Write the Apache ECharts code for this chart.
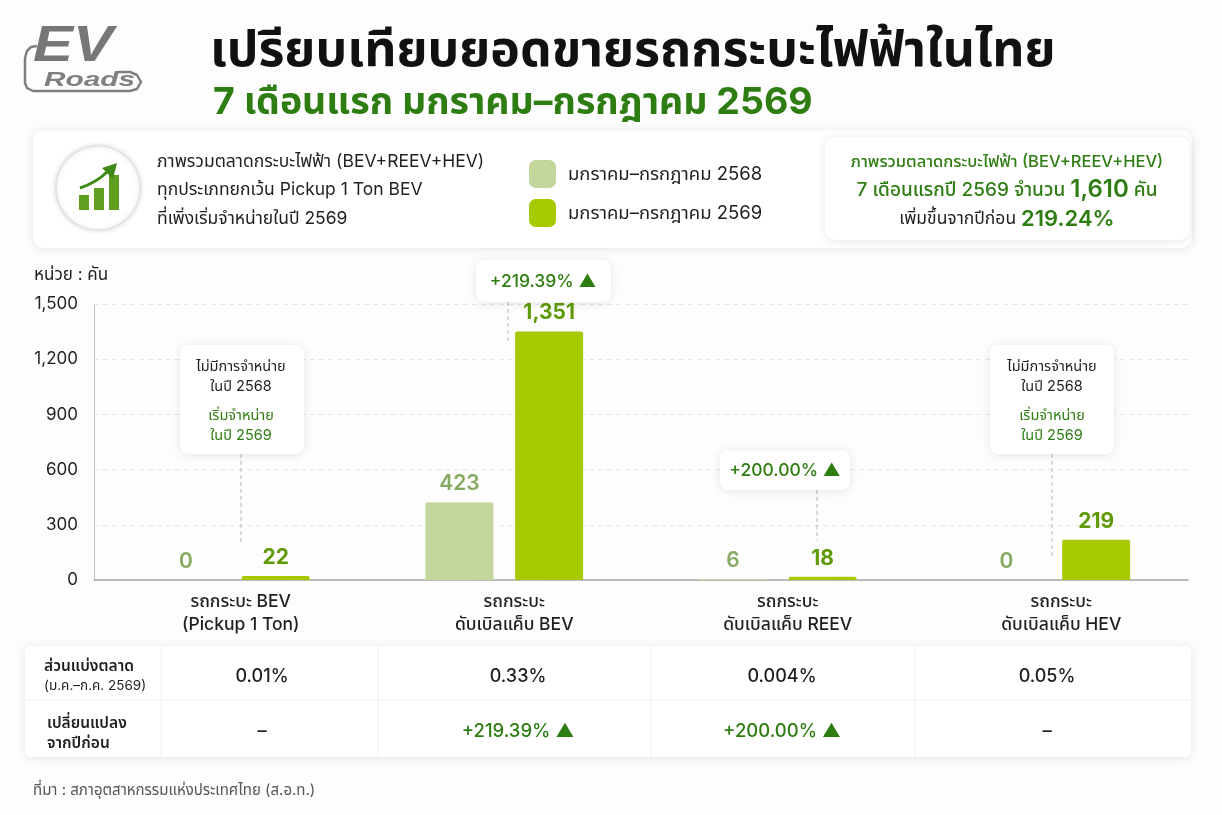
<!DOCTYPE html>
<html><head><meta charset="utf-8">
<style>html,body{margin:0;padding:0;background:#fdfdfd}#c{width:1222px;height:815px}</style>
<script src="https://cdn.jsdelivr.net/npm/echarts@6/dist/echarts.min.js"></script>
</head><body><div id="c"></div>
<script>
const categories = ['รถกระบะ BEV\n(Pickup 1 Ton)', 'รถกระบะ\nดับเบิลแค็บ BEV', 'รถกระบะ\nดับเบิลแค็บ REEV', 'รถกระบะ\nดับเบิลแค็บ HEV'];
const name2568 = 'มกราคม–กรกฎาคม 2568';
const name2569 = 'มกราคม–กรกฎาคม 2569';
const values2568 = [0, 423, 6, 0];
const values2569 = [22, 1351, 18, 219];
const yTicks = { min: 0, max: 1500, interval: 300 };
const shareRow = ['0.01%', '0.33%', '0.004%', '0.05%'];
const changeRow = ['–', '+219.39% ▲', '+200.00% ▲', '–'];

const FONT = '"Inter","Noto Sans Thai","Noto Sans",sans-serif';
const GREEN = '#2e7d12', INK = '#1f1f1f';

function txt(x, y, text, size, color, align, weight, z, extra) {
  return { type: 'text', x, y, z: z || 5, silent: true,
    style: Object.assign({ text, fontFamily: FONT, fontSize: size, fill: color, align: align || 'left',
      verticalAlign: 'middle', fontWeight: weight || 'normal' }, extra || {}) };
}
function panel(x, y, w, h, r, z) {
  return { type: 'rect', z: z || 1, silent: true, shape: { x, y, width: w, height: h, r },
    style: { fill: '#fff', shadowBlur: 10, shadowColor: 'rgba(0,0,0,0.10)', shadowOffsetY: 1 } };
}
function dash(x, y1, y2) {
  return { type: 'line', z: 6, silent: true, shape: { x1: x, y1, x2: x, y2 },
    style: { stroke: '#b5b5b5', lineWidth: 1, lineDash: [4, 3] } };
}
function vrule(x, y1, y2) {
  return { type: 'line', z: 3, silent: true, shape: { x1: x, y1, x2: x, y2 }, style: { stroke: '#efefef', lineWidth: 1 } };
}
function hrule(x1, x2, y) {
  return { type: 'line', z: 3, silent: true, shape: { x1, y1: y, x2, y2: y }, style: { stroke: '#efefef', lineWidth: 1 } };
}

const g = [];
// logo
g.push({ type: 'polyline', z: 2, silent: true,
  shape: { points: [[37, 46], [31, 47], [27, 51], [25, 58], [25, 83], [27, 88], [33, 91], [130, 91], [137, 89], [141, 82], [137, 75], [130, 72], [118, 72]] },
  style: { fill: 'none', stroke: '#7f7f7f', lineWidth: 2.5, lineJoin: 'round' } });
g.push(Object.assign(txt(33, 47, 'EV', 50, '#777', 'left', 'bold', 4, { fontStyle: 'italic', fontFamily: '"Liberation Sans",sans-serif' }), { scaleX: 1.2, originX: 0, originY: 0 }));
g.push(Object.assign(txt(44, 80, 'Roads', 21, '#808080', 'left', 'bold', 4, { fontStyle: 'italic', fontFamily: '"Liberation Sans",sans-serif' }), { scaleX: 1.42, originX: 0, originY: 0 }));
// titles
g.push(txt(210, 51, 'เปรียบเทียบยอดขายรถกระบะไฟฟ้าในไทย', 50, '#111', 'left', 'bold'));
g.push(txt(213, 103, '7 เดือนแรก มกราคม–กรกฎาคม 2569', 37.5, GREEN, 'left', 'bold'));
// summary panel
g.push(panel(33, 130, 1159, 118, 10));
g.push({ type: 'circle', z: 2, silent: true, shape: { cx: 98, cy: 188, r: 42 },
  style: { fill: '#fff', stroke: '#e2e2e2', lineWidth: 1.5, shadowBlur: 5, shadowColor: 'rgba(0,0,0,.15)' } });
[[79, 195, 10, 15], [94, 188, 10, 22], [109, 175, 10, 35]].forEach(b => g.push({ type: 'rect', z: 3, silent: true,
  shape: { x: b[0], y: b[1], width: b[2], height: b[3] }, style: { fill: '#5f9e1f' } }));
g.push({ type: 'bezierCurve', z: 3, silent: true, shape: { x1: 80, y1: 188, x2: 107, y2: 172, cpx1: 92, cpy1: 184, cpx2: 101, cpy2: 178 },
  style: { fill: 'none', stroke: '#3f8a16', lineWidth: 3 } });
g.push({ type: 'polygon', z: 3, silent: true, shape: { points: [[117, 163], [113, 179], [102, 168]] }, style: { fill: '#3f8a16' } });
g.push(txt(157, 162, 'ภาพรวมตลาดกระบะไฟฟ้า (BEV+REEV+HEV)', 17.5, INK));
g.push(txt(157, 190, 'ทุกประเภทยกเว้น Pickup 1 Ton BEV', 17.5, INK));
g.push(txt(157, 219, 'ที่เพิ่งเริ่มจำหน่ายในปี 2569', 17.5, INK));
// total box
g.push(panel(825, 137, 365, 103, 10, 2));
g.push(txt(1007, 162, 'ภาพรวมตลาดกระบะไฟฟ้า (BEV+REEV+HEV)', 16.5, GREEN, 'center', 500, 5));
g.push(txt(1007, 190, '{a|7 เดือนแรกปี 2569 จำนวน }{b|1,610}{a| คัน}', 19, GREEN, 'center', 500, 5, {
  rich: { a: { fontFamily: FONT, fontSize: 19, fill: GREEN, fontWeight: 500 }, b: { fontFamily: FONT, fontSize: 24, fill: GREEN, fontWeight: 600 } } }));
g.push(txt(1007, 219, '{a|เพิ่มขึ้นจากปีก่อน }{b|219.24%}', 17, INK, 'center', 500, 5, {
  rich: { a: { fontFamily: FONT, fontSize: 17.5, fill: INK }, b: { fontFamily: FONT, fontSize: 22, fill: GREEN, fontWeight: 600 } } }));
// unit
g.push(txt(34, 275, 'หน่วย : คัน', 17, INK));
// callouts
function noteBox(x, w, cx, conn) {
  g.push(panel(x, 345, w, 109, 8, 20));
  g.push(txt(cx, 367, 'ไม่มีการจำหน่าย', 14.5, INK, 'center', 'normal', 21));
  g.push(txt(cx, 387, 'ในปี 2568', 14.5, INK, 'center', 'normal', 21));
  g.push(txt(cx, 416, 'เริ่มจำหน่าย', 14.5, GREEN, 'center', 'normal', 21));
  g.push(txt(cx, 436, 'ในปี 2569', 14.5, GREEN, 'center', 'normal', 21));
  g.push(dash(cx, 454, conn));
}
noteBox(180, 124, 241, 545);
noteBox(990, 124, 1052, 556);
g.push(panel(476, 260, 135, 42, 8, 20));
g.push(txt(543, 282, '+219.39% ▲', 17.5, GREEN, 'center', 500, 21));
g.push(dash(508, 302, 342));
g.push(panel(720, 450, 130, 40, 8, 20));
g.push(txt(785, 471, '+200.00% ▲', 17.5, GREEN, 'center', 500, 21));
g.push(dash(817, 490, 540));
// table
g.push(panel(25, 646, 1166, 111, 6, 1));
g.push(hrule(25, 1191, 700));
[161, 378, 651, 915].forEach(x => g.push(vrule(x, 646, 757)));
g.push(txt(44, 666, 'ส่วนแบ่งตลาด', 15.5, INK, 'left', 600));
g.push(txt(44, 686, '(ม.ค.–ก.ค. 2569)', 13.5, INK));
g.push(txt(47, 723, 'เปลี่ยนแปลง', 15.5, INK, 'left', 600));
g.push(txt(47, 743, 'จากปีก่อน', 15.5, INK, 'left', 600));
const colCx = [262, 518, 782, 1047];
shareRow.forEach((s, i) => g.push(txt(colCx[i], 677, s, 18, INK, 'center', 500)));
changeRow.forEach((s, i) => g.push(txt(colCx[i], 731, s, 18.5, s === '–' ? INK : GREEN, 'center', 500)));
// source
g.push(txt(33, 790, 'ที่มา : สภาอุตสาหกรรมแห่งประเทศไทย (ส.อ.ท.)', 15, '#555'));

const chart = echarts.init(document.getElementById('c'), null, { renderer: 'canvas' });
chart.setOption({
  backgroundColor: '#fdfdfd',
  animation: false,
  textStyle: { fontFamily: FONT },
  legend: { orient: 'vertical', left: 524, top: 155, itemWidth: 27, itemHeight: 28, itemGap: 11,
    icon: 'roundRect', selectedMode: false,
    textStyle: { fontFamily: FONT, fontSize: 18.5, color: INK, padding: [7, 0, 0, 7] },
    data: [name2568, name2569] },
  grid: { left: 94, right: 34, top: 304, bottom: 235 },
  xAxis: { type: 'category', data: categories,
    axisLine: { lineStyle: { color: '#a8a8a8', width: 1.5 } }, axisTick: { show: false },
    axisLabel: { color: INK, fontFamily: FONT, fontSize: 17.5, fontWeight: 500, lineHeight: 23, margin: 10, interval: 0, padding: [0, 0, 0, 20] } },
  yAxis: { type: 'value', min: yTicks.min, max: yTicks.max, interval: yTicks.interval,
    axisLine: { show: true, lineStyle: { color: '#c4c4c4', width: 1 } }, axisTick: { show: false },
    axisLabel: { color: INK, fontFamily: FONT, fontSize: 17, margin: 16, padding: [2, 0, 0, 0], formatter: v => v.toLocaleString('en-US') },
    splitLine: { lineStyle: { color: '#e6e6e6', type: [5, 4], width: 1 } } },
  series: [
    { name: name2568, type: 'bar', data: values2568, barWidth: 68, barGap: '32%',
      itemStyle: { color: '#c3d69b', borderRadius: [2, 2, 0, 0] },
      label: { show: true, position: 'top', distance: 8, fontFamily: FONT, fontSize: 21, fontWeight: 600, color: '#86aa62',
        formatter: p => p.value.toLocaleString('en-US') } },
    { name: name2569, type: 'bar', data: values2569, barWidth: 68,
      itemStyle: { color: '#a6ca00', borderRadius: [2, 2, 0, 0] },
      label: { show: true, position: 'top', distance: 8, fontFamily: FONT, fontSize: 21, fontWeight: 700, color: '#5f9a06',
        formatter: p => p.value.toLocaleString('en-US') } }
  ],
  graphic: { elements: g }
});
</script></body></html>
